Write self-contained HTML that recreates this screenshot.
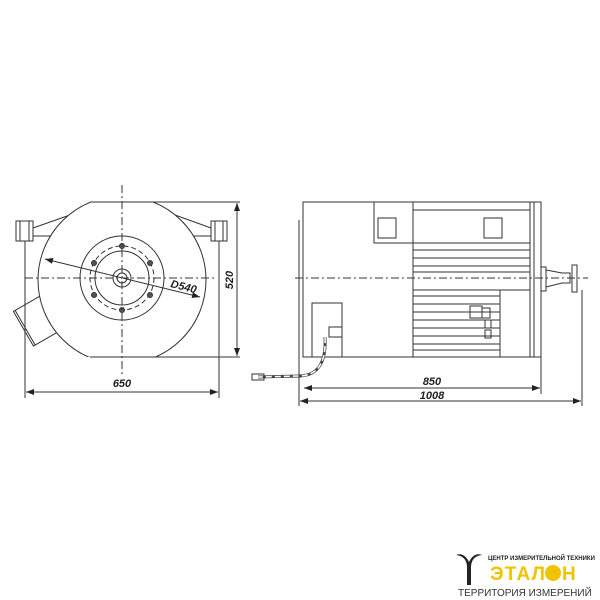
<!DOCTYPE html>
<html><head><style>
body{margin:0;background:#fff;width:600px;height:600px;overflow:hidden;position:relative;font-family:"Liberation Sans",sans-serif}
</style></head><body>
<svg width="600" height="600" viewBox="0 0 600 600" style="position:absolute;left:0;top:0">
<defs>
<clipPath id="cl"><rect x="0" y="202" width="600" height="155"/></clipPath>
<marker id="a" markerWidth="8" markerHeight="6" refX="8" refY="3" orient="auto"><path d="M0,0 L8,3 L0,6z" fill="#222"/></marker>
<marker id="b" markerWidth="8" markerHeight="6" refX="0" refY="3" orient="auto"><path d="M8,0 L0,3 L8,6z" fill="#222"/></marker>
</defs>
<g stroke="#333" stroke-width="1" fill="none">
<path d="M33,228 L70,215 M33,236 L60,236 M211,228 L175,215 M211,236 L184,236"/>
<rect x="16" y="221" width="17" height="20" fill="#fff"/><rect x="20" y="221" width="9" height="20"/>
<rect x="211" y="221" width="16" height="20" fill="#fff"/><rect x="215" y="221" width="8" height="20"/>
<g transform="rotate(-30 38 318)"><rect x="20" y="300" width="40" height="40" fill="#fff"/><line x1="22" y1="300" x2="22" y2="340"/></g>
<circle cx="122" cy="280" r="84" clip-path="url(#cl)" fill="#fff"/>
<line x1="90" y1="202" x2="153" y2="202"/><line x1="90" y1="357" x2="153" y2="357"/>
<circle cx="122" cy="278" r="42"/><circle cx="122" cy="278" r="32" stroke-dasharray="5,3"/><circle cx="122" cy="278" r="27"/>
<circle cx="122" cy="278" r="9"/><circle cx="122" cy="278" r="5"/>
<g fill="#555"><circle cx="122" cy="246" r="2.5"/><circle cx="122" cy="310" r="2.5"/><circle cx="94" cy="263" r="2.5"/><circle cx="150" cy="263" r="2.5"/><circle cx="94" cy="295" r="2.5"/><circle cx="150" cy="295" r="2.5"/></g>
<line x1="122" y1="185" x2="122" y2="375" stroke-dasharray="8,3,2,3"/>
<line x1="25" y1="278" x2="215" y2="278" stroke-dasharray="8,3,2,3"/>
<line x1="45" y1="259" x2="200" y2="297" marker-start="url(#b)" marker-end="url(#a)"/>
<line x1="153" y1="202" x2="240" y2="202"/><line x1="153" y1="357" x2="240" y2="357"/>
<line x1="237" y1="203" x2="237" y2="356" marker-start="url(#b)" marker-end="url(#a)"/>
<line x1="25" y1="241" x2="25" y2="398"/><line x1="219" y1="241" x2="219" y2="398"/>
<line x1="26" y1="392" x2="218" y2="392" marker-start="url(#b)" marker-end="url(#a)"/>
<rect x="303" y="202" width="110" height="155" fill="#fff"/>
<rect x="374" y="202" width="39" height="41"/>
<rect x="413" y="202" width="117" height="155"/>
<path d="M413,210H530M413,243H530M413,250H530M413,258H530M413,266H530M413,272H530M413,290H530M413,296H500M413,304H500M413,312H500M413,320H500M413,328H500M413,336H500M413,344H500M413,350H500M500,290V357"/>
<rect x="378" y="218" width="18" height="20"/><rect x="484" y="218" width="18" height="20"/>
<rect x="530" y="202" width="11" height="155"/><line x1="534" y1="202" x2="534" y2="357"/>
<rect x="541" y="267" width="5" height="24"/>
<path d="M546,270 L562,273 L570,273 L570,283 L562,283 L546,287z"/>
<rect x="572" y="265" width="5" height="27"/>
<rect x="470" y="306" width="12" height="12"/><rect x="482" y="308" width="8" height="10"/><rect x="485" y="320" width="6" height="8"/><rect x="485" y="330" width="6" height="8"/>
<rect x="312" y="303" width="30" height="54" fill="#fff"/>
<path d="M342,327H329V337H342"/>
<path d="M325,337 Q327,375 300,376 L258,377" stroke-width="3" stroke="#444"/>
<path d="M325,337 Q327,375 300,376 L258,377" stroke-width="1.5" stroke="#fff" stroke-dasharray="6,3"/>
<rect x="252" y="374" width="12" height="6"/>
<line x1="295" y1="278" x2="588" y2="278" stroke-dasharray="8,3,2,3"/>
<line x1="299" y1="220" x2="299" y2="406"/><line x1="541" y1="357" x2="541" y2="394"/><line x1="582" y1="290" x2="582" y2="406"/>
<line x1="304" y1="388" x2="540" y2="388" marker-start="url(#b)" marker-end="url(#a)"/>
<line x1="300" y1="401" x2="581" y2="401" marker-start="url(#b)" marker-end="url(#a)"/>
</g>
<g font-weight="bold" font-style="italic" font-size="11" fill="#222">
<text x="170" y="287" transform="rotate(14 170 287)">D540</text>
<text x="233" y="280" transform="rotate(-90 233 280)" text-anchor="middle">520</text>
<text x="122" y="387" text-anchor="middle">650</text>
<text x="432" y="385" text-anchor="middle">850</text>
<text x="432" y="399" text-anchor="middle">1008</text>
</g>
<path d="M456,555 Q466,556 467,566 L467,585 L471,585 L471,566 Q472,556 482,555 Q474,552 469,562 Q464,552 456,555z" fill="#222"/>
<text x="488" y="560" font-size="6" font-weight="bold" fill="#222">ЦЕНТР ИЗМЕРИТЕЛЬНОЙ ТЕХНИКИ</text>
<text x="490" y="580" font-size="19" font-weight="bold" fill="#f2c200" textLength="55">ЭТАЛ</text>
<circle cx="553" cy="573" r="8" fill="#f2c200"/>
<text x="562" y="580" font-size="19" font-weight="bold" fill="#f2c200">Н</text>
<text x="458" y="596" font-size="10" fill="#333">ТЕРРИТОРИЯ ИЗМЕРЕНИЙ</text>
</svg>
</body></html>
